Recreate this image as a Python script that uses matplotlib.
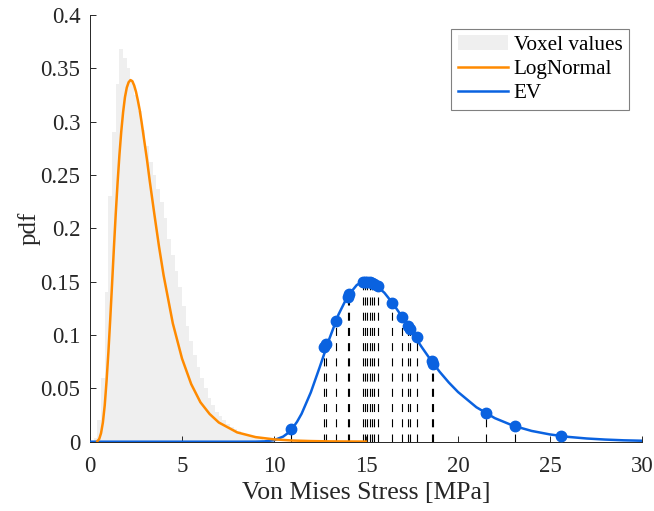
import matplotlib
matplotlib.use('Agg')
import matplotlib.pyplot as plt

plt.rcParams['font.family'] = ['Liberation Serif', 'DejaVu Serif']
plt.rcParams['font.size'] = 16

# histogram of voxel values (bin centres, width 0.2)
hist_x = [0.3, 0.5, 0.7, 0.9, 1.1, 1.3, 1.5, 1.7, 1.9, 2.1, 2.3, 2.5, 2.7, 2.9,
          3.1, 3.3, 3.5, 3.7, 3.9, 4.1, 4.3, 4.5, 4.7, 4.9, 5.1, 5.3, 5.5, 5.7,
          5.9, 6.1, 6.3, 6.5, 6.7, 6.9, 7.1, 7.3, 7.5, 7.7, 7.9, 8.1, 8.3, 8.5,
          8.7, 8.9, 9.1, 9.3, 9.5, 9.7, 9.9]
hist_h = [0.003, 0.02, 0.06, 0.14, 0.23, 0.29, 0.335, 0.368, 0.36, 0.35, 0.338,
          0.325, 0.31, 0.292, 0.277, 0.262, 0.25, 0.237, 0.225, 0.21, 0.19,
          0.175, 0.16, 0.145, 0.127, 0.108, 0.094, 0.081, 0.07, 0.06, 0.05,
          0.041, 0.034, 0.028, 0.024, 0.02, 0.017, 0.014, 0.012, 0.01, 0.008,
          0.0065, 0.005, 0.004, 0.0033, 0.0027, 0.002, 0.0016, 0.0012]

# LogNormal fit
ln_x = [0.4, 0.5, 0.6, 0.7, 0.8, 0.9, 1.0, 1.1, 1.2, 1.3, 1.4, 1.5, 1.6, 1.7,
        1.8, 1.9, 2.0, 2.1, 2.2, 2.3, 2.4, 2.5, 2.6, 2.7, 2.8, 2.9, 3.0, 3.1,
        3.25, 3.5, 3.75, 4.0, 4.5, 5.0, 5.5, 6.0, 6.5, 7.0, 8.0, 9.0, 10.0,
        11.0, 12.0, 13.0, 14.0, 15.0]
ln_y = [0.0005, 0.0025, 0.008, 0.018, 0.034, 0.057, 0.084, 0.115, 0.148, 0.182,
        0.214, 0.243, 0.269, 0.291, 0.309, 0.323, 0.332, 0.337, 0.339, 0.338,
        0.334, 0.328, 0.320, 0.311, 0.300, 0.288, 0.276, 0.264, 0.244, 0.213,
        0.183, 0.156, 0.111, 0.078, 0.054, 0.037, 0.026, 0.018, 0.0087, 0.0043,
        0.0022, 0.0011, 0.0006, 0.0003, 0.0002, 0.0001]

# EV fit
ev_x = [0, 8, 9, 9.5, 10, 10.5, 10.75, 11, 11.25, 11.5, 12, 12.5, 13, 13.5, 14,
        14.5, 14.75, 15, 15.25, 15.5, 16, 16.5, 17, 17.5, 18, 18.5, 19, 19.5,
        20, 21, 22, 23, 24, 25, 26, 27, 28, 29, 30]
ev_y = [0, 0, 0.00005, 0.0003, 0.0014, 0.0048, 0.008, 0.0125, 0.0186, 0.0262,
        0.0462, 0.0707, 0.0961, 0.119, 0.1364, 0.1469, 0.1494, 0.1502, 0.1494,
        0.1473, 0.1396, 0.1287, 0.116, 0.1026, 0.0894, 0.077, 0.0656, 0.0555,
        0.0466, 0.0323, 0.0221, 0.015, 0.0101, 0.0068, 0.0045, 0.003, 0.002,
        0.0013, 0.0009]

# extreme values (samples) and their pdf
pts_x = [10.92, 12.73, 12.83, 13.37, 14.0, 14.09, 14.86, 14.95, 15.05, 15.22,
         15.31, 15.42, 15.65, 16.43, 16.97, 17.30, 17.39, 17.75, 18.56, 18.66,
         21.5, 23.1, 25.6]
pts_y = [0.0118, 0.089, 0.092, 0.113, 0.136, 0.138, 0.150, 0.150, 0.150, 0.150,
         0.149, 0.148, 0.146, 0.130, 0.117, 0.108, 0.106, 0.098, 0.076, 0.073,
         0.027, 0.0145, 0.0055]

orange = '#ff8a00'
blue = '#0a62e0'
axcol = '#262626'

fig = plt.figure(figsize=(6.54, 5.11), dpi=100)
ax = fig.add_axes([90/654, 69.3/511, 552/654, 426.7/511])

h_hist = ax.bar(hist_x, hist_h, width=0.2, color='#efefef', linewidth=0, zorder=1)
for x, y in zip(pts_x, pts_y):
    ax.plot([x, x], [0, y], color='k', lw=0.8, dashes=(7.2, 6.5), zorder=2)
h_ln, = ax.plot(ln_x, ln_y, color=orange, lw=1.8, zorder=4)
h_ev, = ax.plot(ev_x, ev_y, color=blue, lw=1.8, zorder=3)
ax.plot(pts_x, pts_y, 'o', color=blue, ms=7.5, zorder=5)

ax.set_xlim(0, 30)
ax.set_ylim(0, 0.4)
ax.set_xticks([0, 5, 10, 15, 20, 25, 30])
ax.set_yticks([0, 0.05, 0.1, 0.15, 0.2, 0.25, 0.3, 0.35, 0.4])
ax.set_yticklabels(['0', '0.05', '0.1', '0.15', '0.2', '0.25', '0.3', '0.35', '0.4'])
ax.tick_params(direction='in', length=4.5, width=0.7, colors=axcol, labelsize=16.5)
ax.tick_params(axis='x', pad=10.5)
ax.tick_params(axis='y', pad=7)
for s in ['top', 'right']:
    ax.spines[s].set_visible(False)
for s in ['left', 'bottom']:
    ax.spines[s].set_color(axcol)
    ax.spines[s].set_linewidth(0.7)

ax.set_xlabel('Von Mises Stress [MPa]', color=axcol, fontsize=18.5, labelpad=3.5)
ax.set_ylabel('pdf', color=axcol, fontsize=18, labelpad=0)

leg = ax.legend([h_hist, h_ln, h_ev], ['Voxel values', 'LogNormal', 'EV'],
                loc='upper right', bbox_to_anchor=(0.976, 0.967), borderaxespad=0,
                fancybox=False, edgecolor='#808080', framealpha=1, fontsize=15.2,
                handlelength=2.4, handletextpad=0.25, labelspacing=0.2,
                borderpad=0.3)
leg.get_frame().set_linewidth(0.8)

fig.savefig('out.png', dpi=100)
